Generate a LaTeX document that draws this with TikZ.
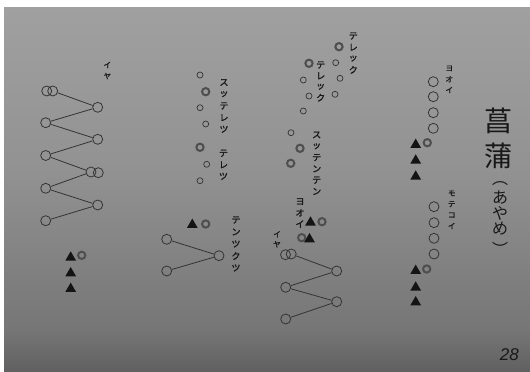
\documentclass[tikz,border=0pt]{standalone}
\usepackage{fontspec}
\newfontfamily\jp{Noto Sans CJK JP}
\newfontfamily\jpb[FakeBold=1.6]{Noto Sans CJK JP}
\newfontfamily\numfont{Liberation Sans}
\usetikzlibrary{shapes.geometric}
\definecolor{bgtop}{RGB}{160,160,160}
\definecolor{bgmid}{RGB}{146,146,146}
\definecolor{bgbot}{RGB}{118,118,118}
\definecolor{bgend}{RGB}{96,96,96}
\definecolor{inkc}{RGB}{52,52,52}
\definecolor{boldc}{RGB}{78,78,78}
\definecolor{textc}{RGB}{24,24,24}
\definecolor{tric}{RGB}{20,20,20}
\newcommand\vstack[6]{% name, x, ystart, pitch, style, list
  \foreach \ch [count=\i from 0] in {#6} {
    \node[#5] (#1-\i) at (#2, {#3+\i*#4}) {\ch};
  }}
\begin{document}
\begin{tikzpicture}[x=1pt,y=-1pt,
  ring/.style={circle,draw=inkc,line width=0.8pt,minimum size=10pt,inner sep=0pt},
  sring/.style={circle,draw=inkc,line width=0.7pt,minimum size=6pt,inner sep=0pt},
  bring/.style={circle,draw=boldc,line width=2pt,minimum size=7.3pt,inner sep=0pt},
  tri/.style={regular polygon,regular polygon sides=3,fill=tric,minimum size=12.4pt,inner sep=0pt},
  link/.style={draw=inkc,line width=0.8pt},
  kana/.style={font=\jpb\fontsize{9}{9}\selectfont,text=textc,inner sep=0pt},
  skana/.style={font=\jpb\fontsize{7.5}{7.5}\selectfont,text=textc,inner sep=0pt},
  title/.style={font=\jp\fontsize{28}{28}\selectfont,text=textc,inner sep=0pt},
  subtitle/.style={font=\jp\fontsize{16}{16}\selectfont,text=textc,inner sep=0pt},
]
\useasboundingbox (0,0) rectangle (530,372);
% background
\fill[white] (0,0) rectangle (530,372);
\shade[top color=bgtop,bottom color=bgbot,middle color=bgmid] (4,7) rectangle (530,330);
\shade[top color=bgbot,bottom color=bgend] (4,329.5) rectangle (530,372);

% ---------- column 1 ----------
\node[ring] (c1a) at (46.7,91) {};
\node[ring] (c1a2) at (52.7,91) {};
\node[ring] (c1b) at (97.7,107.3) {};
\node[ring] (c1c) at (45.7,122.7) {};
\node[ring] (c1d) at (97.7,139.3) {};
\node[ring] (c1e) at (45.7,155.5) {};
\node[ring] (c1f) at (91,172) {};
\node[ring] (c1f2) at (98.3,172.7) {};
\node[ring] (c1g) at (45.7,188.3) {};
\node[ring] (c1h) at (97.7,205) {};
\node[ring] (c1i) at (45.7,220.7) {};
\draw[link] (c1a2) -- (c1b);
\draw[link] (c1b) -- (c1c);
\draw[link] (c1c) -- (c1d);
\draw[link] (c1d) -- (c1e);
\draw[link] (c1e) -- (c1f);
\draw[link] (c1f) -- (c1g);
\draw[link] (c1g) -- (c1h);
\draw[link] (c1h) -- (c1i);
\vstack{l1}{107.3}{65}{11}{skana}{イ,ヤ}
\node[bring] (c1r) at (81.7,255.3) {};
\node[tri] (c1t1) at (70.7,257.5) {};
\node[tri] (c1t2) at (70.7,273.2) {};
\node[tri] (c1t3) at (70.7,288.8) {};

% ---------- column 2 ----------
\node[sring] (c2a) at (200,75) {};
\node[bring] (c2b) at (205.7,91.7) {};
\node[sring] (c2c) at (200,107.7) {};
\node[sring] (c2d) at (205.7,124) {};
\node[bring] (c2e) at (200,147.3) {};
\node[sring] (c2f) at (206.7,164.3) {};
\node[sring] (c2g) at (200,180.7) {};
\vstack{l2}{224}{82.5}{11.7}{kana}{ス,ッ,テ,レ,ツ}
\vstack{l3}{223.5}{153.3}{11.5}{kana}{テ,レ,ツ}
\node[bring] (c2r) at (205.7,224) {};
\node[tri] (c2t) at (192.3,224.8) {};
\node[ring] (c2l1) at (166.7,239.3) {};
\node[ring] (c2l2) at (166.7,271) {};
\node[ring] (c2rt) at (219,255.7) {};
\draw[link] (c2l1) -- (c2rt);
\draw[link] (c2l2) -- (c2rt);
\vstack{l4}{236}{220}{12}{kana}{テ,ン,ツ,ク,ツ}

% ---------- column 3 ----------
\node[bring] (c3a) at (339,46.7) {};
\node[sring] (c3b) at (335.7,62.7) {};
\node[bring] (c3c) at (309,63.3) {};
\node[sring] (c3d) at (303.3,80) {};
\node[sring] (c3e) at (340,78.3) {};
\node[sring] (c3f) at (309,96) {};
\node[sring] (c3g) at (335,94.3) {};
\node[sring] (c3h) at (303.3,111) {};
\node[sring] (c3i) at (291,132.7) {};
\node[bring] (c3j) at (300,148.3) {};
\node[bring] (c3k) at (290.7,163.3) {};
\vstack{l5}{353.3}{36}{11.3}{kana}{テ,レ,ッ,ク}
\vstack{l6}{320.7}{65}{10.9}{kana}{テ,レ,ッ,ク}
\vstack{l7}{316.7}{135}{11.3}{kana}{ス,ッ,テ,ン,テ,ン}
\vstack{l8}{300}{201.5}{11.3}{kana}{ヨ,オ,イ}
\node[bring] (c3r1) at (322,221.7) {};
\node[tri] (c3t1) at (310.5,222.5) {};
\node[bring] (c3r2) at (301.7,237.7) {};
\node[tri] (c3t2) at (309.5,239.2) {};
\vstack{l9}{277}{234.3}{10}{skana}{イ,ヤ}
\node[ring] (c3z1) at (285.5,254.7) {};
\node[ring] (c3z1b) at (291.2,254) {};
\node[ring] (c3z2) at (336.7,271) {};
\node[ring] (c3z3) at (285.7,287.3) {};
\node[ring] (c3z4) at (336.7,301.7) {};
\node[ring] (c3z5) at (285.7,319) {};
\draw[link] (c3z1b) -- (c3z2);
\draw[link] (c3z2) -- (c3z3);
\draw[link] (c3z3) -- (c3z4);
\draw[link] (c3z4) -- (c3z5);

% ---------- column 4 ----------
\vstack{l10}{449.3}{68.3}{10.9}{skana}{ヨ,オ,イ}
\node[ring] (c4a) at (433.3,81.7) {};
\node[ring] (c4b) at (433.3,96.7) {};
\node[ring] (c4c) at (433.3,112.7) {};
\node[ring] (c4d) at (433.3,128.3) {};
\node[bring] (c4r1) at (427.3,142.7) {};
\node[tri] (c4t1) at (415.7,144.8) {};
\node[tri] (c4t2) at (415.7,160.5) {};
\node[tri] (c4t3) at (415.7,176.5) {};
\vstack{l11}{451.7}{193.3}{10.9}{skana}{モ,テ,コ,イ}
\node[ring] (c4e) at (434,206.7) {};
\node[ring] (c4f) at (434,222.7) {};
\node[ring] (c4g) at (434,238.3) {};
\node[ring] (c4h) at (434,254) {};
\node[bring] (c4r2) at (426.7,269) {};
\node[tri] (c4t4) at (415.7,270.8) {};
\node[tri] (c4t5) at (415.7,287.5) {};
\node[tri] (c4t6) at (415.7,302.2) {};

% ---------- title ----------
\node[title] (ti1) at (498.5,121) {菖};
\node[title] (ti2) at (498.5,155.5) {蒲};
\node[subtitle] (st0) at (500,184) {︵};
\node[subtitle] (st1) at (500,197.5) {あ};
\node[subtitle] (st2) at (500,213.3) {や};
\node[subtitle] (st3) at (500,228.5) {め};
\node[subtitle] (st4) at (500,249) {︶};

\node[font=\numfont\itshape\fontsize{17}{17}\selectfont,text=textc,inner sep=0pt] (pg) at (509.3,355) {28};
\end{tikzpicture}
\end{document}
